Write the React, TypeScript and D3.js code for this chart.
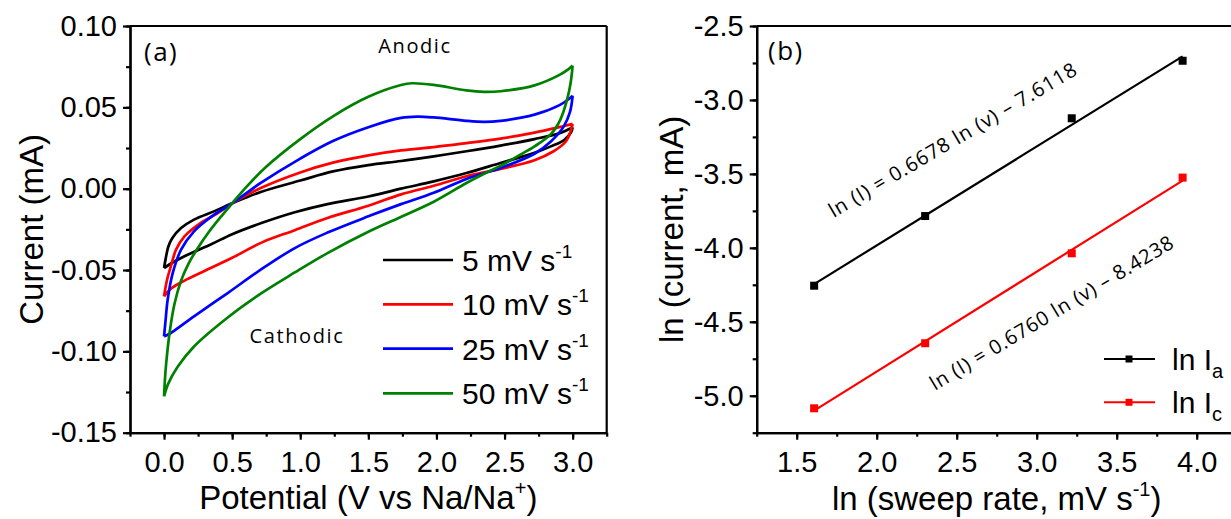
import React, { useRef, useEffect } from "react";
import * as d3 from "d3";

const W = 1231, H = 519;

// (a) cyclic voltammograms: [potential (V), current (mA)]
// anodic = forward sweep 0 -> 3 V, cathodic = reverse sweep 3 -> 0 V
const cv5Anodic = [[0,-0.0488],[0.012,-0.043],[0.03,-0.036],[0.06,-0.0305],[0.125,-0.0242],[0.22,-0.019],[0.37,-0.0138],[0.5,-0.009],[0.71,-0.002],[1.0,0.005],[1.24,0.0106],[1.5,0.0145],[1.74,0.017],[1.98,0.0199],[2.22,0.023],[2.47,0.0265],[2.72,0.0305],[2.9,0.034],[2.97,0.0365],[3.0,0.0378]];
const cv5Cathodic = [[3.0,0.0378],[2.99,0.035],[2.94,0.030],[2.84,0.026],[2.72,0.022],[2.47,0.0158],[2.22,0.0096],[1.98,0.0045],[1.74,0.0],[1.5,-0.0048],[1.2,-0.0095],[0.96,-0.0145],[0.72,-0.021],[0.5,-0.028],[0.35,-0.034],[0.15,-0.0415],[0.05,-0.046],[0,-0.0488]];

const cv10Anodic = [[0,-0.0662],[0.01,-0.061],[0.025,-0.055],[0.05,-0.0478],[0.088,-0.0375],[0.15,-0.0293],[0.27,-0.021],[0.395,-0.015],[0.5,-0.009],[0.71,0.0004],[1.0,0.010],[1.24,0.016],[1.5,0.0205],[1.74,0.0235],[1.98,0.0255],[2.22,0.028],[2.47,0.0308],[2.72,0.0345],[2.9,0.0378],[2.97,0.0392],[3.0,0.0398]];
const cv10Cathodic = [[3.0,0.0398],[2.98,0.034],[2.95,0.029],[2.86,0.023],[2.72,0.0175],[2.47,0.0122],[2.22,0.0076],[1.98,0.0018],[1.74,-0.0035],[1.5,-0.0105],[1.2,-0.018],[0.96,-0.0255],[0.72,-0.033],[0.5,-0.0425],[0.3,-0.0505],[0.15,-0.0565],[0.05,-0.0615],[0,-0.0662]];

const cv25Anodic = [[0,-0.0908],[0.01,-0.082],[0.027,-0.068],[0.064,-0.0518],[0.125,-0.0375],[0.22,-0.0262],[0.35,-0.017],[0.5,-0.009],[0.71,0.0035],[1.0,0.0185],[1.24,0.0293],[1.5,0.0378],[1.74,0.0435],[1.86,0.0443],[1.98,0.0438],[2.22,0.0417],[2.35,0.0411],[2.47,0.0417],[2.72,0.0455],[2.9,0.0512],[2.97,0.055],[3.0,0.0572]];
const cv25Cathodic = [[3.0,0.0572],[2.98,0.047],[2.935,0.0383],[2.84,0.029],[2.72,0.0215],[2.47,0.0127],[2.22,0.006],[1.98,-0.0025],[1.74,-0.0095],[1.5,-0.017],[1.2,-0.027],[0.96,-0.0365],[0.71,-0.0498],[0.47,-0.064],[0.22,-0.0785],[0.05,-0.0887],[0,-0.0908]];

const cv50Anodic = [[0,-0.1277],[0.006,-0.118],[0.015,-0.108],[0.04,-0.089],[0.076,-0.071],[0.125,-0.0565],[0.18,-0.046],[0.24,-0.0375],[0.33,-0.0265],[0.42,-0.017],[0.505,-0.0085],[0.62,0.0025],[0.75,0.0135],[1.0,0.0305],[1.24,0.0445],[1.5,0.0565],[1.74,0.0637],[1.82,0.0648],[1.98,0.0638],[2.22,0.0604],[2.35,0.0595],[2.47,0.0599],[2.72,0.0635],[2.9,0.0698],[2.97,0.0735],[3.0,0.0757]];
const cv50Cathodic = [[3.0,0.0757],[2.985,0.065],[2.96,0.055],[2.91,0.0425],[2.84,0.0335],[2.72,0.026],[2.59,0.0197],[2.47,0.014],[2.35,0.0092],[2.22,0.0035],[1.98,-0.008],[1.735,-0.0175],[1.5,-0.0265],[1.2,-0.0396],[0.96,-0.0515],[0.71,-0.0645],[0.47,-0.079],[0.22,-0.097],[0.1,-0.1095],[0.03,-0.12],[0,-0.1277]];

const scanRates = ["5", "10", "25", "50"];
const cvColors = ["#000000", "#ff0000", "#0000ff", "#008000"];

// (b) ln(peak current) vs ln(sweep rate)
const lnRate = [1.609, 2.303, 3.219, 3.912];
const lnIa = [-4.256, -3.785, -3.124, -2.735];
const lnIc = [-5.085, -4.645, -4.037, -3.525];
const eqAnodic = "ln (I) = 0.6678 ln (v) \u2013 7.6118";
const eqCathodic = "ln (I) = 0.6760 ln (v) \u2013 8.4238";

const xTicksA = [0, 0.5, 1, 1.5, 2, 2.5, 3];
const yTicksA = [-0.15, -0.1, -0.05, 0, 0.05, 0.1];
const xTicksB = [1.5, 2, 2.5, 3, 3.5, 4];
const yTicksB = [-5, -4.5, -4, -3.5, -3, -2.5];

const AXIS_FONT = "'Liberation Sans', Arial, sans-serif";
const NOTE_FONT = "'Open Sans', 'Noto Sans', sans-serif";

function drawFrame(g, x, y, xTicks, yTicks, xFmt, yFmt) {
  const [x0, x1] = x.range();
  const [y0, y1] = y.range();
  const minor = (ticks, dom) => {
    const s = (ticks[1] - ticks[0]) / 2, out = [];
    for (let v = dom[0]; v <= dom[1] + 1e-9; v += s) out.push(+v.toFixed(4));
    return out;
  };

  const xa = g.append("g").attr("transform", `translate(0,${y0})`)
    .call(d3.axisBottom(x).tickValues(minor(xTicks, x.domain())).tickSize(4).tickSizeOuter(0).tickFormat(() => ""));
  const xb = g.append("g").attr("transform", `translate(0,${y0})`)
    .call(d3.axisBottom(x).tickValues(xTicks).tickSize(7).tickSizeOuter(0).tickPadding(12).tickFormat(xFmt));
  const ya = g.append("g").attr("transform", `translate(${x0},0)`)
    .call(d3.axisLeft(y).tickValues(minor(yTicks, y.domain())).tickSize(4).tickSizeOuter(0).tickFormat(() => ""));
  const yb = g.append("g").attr("transform", `translate(${x0},0)`)
    .call(d3.axisLeft(y).tickValues(yTicks).tickSize(7).tickSizeOuter(0).tickPadding(6).tickFormat(yFmt));

  [xa, xb, ya, yb].forEach(a => {
    a.selectAll("path, line").attr("stroke", "#000").attr("stroke-width", 2.2);
    a.selectAll("text").attr("font-family", AXIS_FONT).attr("font-size", 29).attr("fill", "#000");
  });

  // box
  g.append("line").attr("x1", x0).attr("x2", x1).attr("y1", y1).attr("y2", y1).attr("stroke", "#000").attr("stroke-width", 2.2);
  g.append("line").attr("x1", x1).attr("x2", x1).attr("y1", y0).attr("y2", y1).attr("stroke", "#000").attr("stroke-width", 2.2);
}

const fmt = (d) => d3.format(".2f")(d).replace("\u2212", "-");
const fmt1 = (d) => d3.format(".1f")(d).replace("\u2212", "-");

const App = () => {
  const svgRef = useRef();
  useEffect(() => {
    const svg = d3.select(svgRef.current)
      .attr("width", W)
      .attr("height", H)
      .style("background", "#fff");
    svg.selectAll("*").remove();

    // ---------- panel (a) ----------
    const xA = d3.scaleLinear().domain([-0.25, 3.25]).range([130, 606.7]);
    const yA = d3.scaleLinear().domain([-0.15, 0.10]).range([432.7, 26]);
    const ga = svg.append("g");

    const cvLine = d3.line().x(d => xA(d[0])).y(d => yA(d[1])).curve(d3.curveCatmullRom.alpha(0.5));
    const loops = [
      [cv5Anodic, cv5Cathodic],
      [cv10Anodic, cv10Cathodic],
      [cv25Anodic, cv25Cathodic],
      [cv50Anodic, cv50Cathodic],
    ];
    loops.forEach(([up, down], i) => {
      ga.append("path")
        .attr("d", cvLine(up) + cvLine(down))
        .attr("fill", "none")
        .attr("stroke", cvColors[i])
        .attr("stroke-width", 2.7)
        .attr("stroke-linejoin", "round");
    });

    drawFrame(ga, xA, yA, xTicksA, yTicksA, fmt1, fmt);

    ga.append("text").attr("x", 144).attr("y", 61)
      .attr("font-family", NOTE_FONT).attr("font-size", 26).attr("letter-spacing", 1.5).text("(a)");
    ga.append("text").attr("x", 415).attr("y", 53).attr("text-anchor", "middle")
      .attr("font-family", NOTE_FONT).attr("font-size", 20).attr("letter-spacing", 1.6).text("Anodic");
    ga.append("text").attr("x", 297).attr("y", 343).attr("text-anchor", "middle")
      .attr("font-family", NOTE_FONT).attr("font-size", 20).attr("letter-spacing", 1.6).text("Cathodic");

    // legend
    const legRows = [260, 304.3, 348.7, 393.3];
    scanRates.forEach((r, i) => {
      ga.append("line").attr("x1", 383).attr("x2", 453).attr("y1", legRows[i]).attr("y2", legRows[i])
        .attr("stroke", cvColors[i]).attr("stroke-width", 2.7);
      const t = ga.append("text").attr("x", 462).attr("y", legRows[i] + 11)
        .attr("font-family", AXIS_FONT).attr("font-size", 30);
      t.append("tspan").text(`${r} mV s`);
      t.append("tspan").attr("dy", -13).attr("font-size", 19).text("-1");
    });

    // axis titles
    const xt = ga.append("text").attr("x", 368.3).attr("y", 509).attr("text-anchor", "middle")
      .attr("font-family", AXIS_FONT).attr("font-size", 33);
    xt.append("tspan").text("Potential (V vs Na/Na");
    xt.append("tspan").attr("dy", -14).attr("font-size", 20).text("+");
    xt.append("tspan").attr("dy", 14).text(")");
    ga.append("text").attr("transform", "translate(43,229.4) rotate(-90)").attr("text-anchor", "middle")
      .attr("font-family", AXIS_FONT).attr("font-size", 33).text("Current (mA)");

    // ---------- panel (b) ----------
    const xB = d3.scaleLinear().domain([1.25, 4.25]).range([756.7, 1236.7]);
    const yB = d3.scaleLinear().domain([-5.25, -2.5]).range([432.7, 26]);
    const gb = svg.append("g");

    const fit = (xs, ys) => {
      const mx = d3.mean(xs), my = d3.mean(ys);
      const b = d3.sum(xs, (v, i) => (v - mx) * (ys[i] - my)) / d3.sum(xs, v => (v - mx) ** 2);
      return (v) => my + b * (v - mx);
    };
    const series = [
      { ys: lnIa, color: "#000000" },
      { ys: lnIc, color: "#ff0000" },
    ];
    series.forEach(s => {
      const f = fit(lnRate, s.ys);
      const ends = [lnRate[0], lnRate[lnRate.length - 1]];
      gb.append("line")
        .attr("x1", xB(ends[0])).attr("y1", yB(f(ends[0])))
        .attr("x2", xB(ends[1])).attr("y2", yB(f(ends[1])))
        .attr("stroke", s.color).attr("stroke-width", 2.2);
      gb.selectAll(null).data(lnRate).enter().append("rect")
        .attr("x", (d) => xB(d) - 4).attr("y", (d, i) => yB(s.ys[i]) - 4)
        .attr("width", 8).attr("height", 8).attr("fill", s.color);
    });

    drawFrame(gb, xB, yB, xTicksB, yTicksB, fmt1, fmt1);

    gb.append("text").attr("x", 768).attr("y", 60)
      .attr("font-family", NOTE_FONT).attr("font-size", 26).attr("letter-spacing", 1.5).text("(b)");

    gb.append("text").attr("transform", "translate(956,146) rotate(-30.5)").attr("text-anchor", "middle")
      .attr("font-family", NOTE_FONT).attr("font-size", 20)
      .attr("textLength", 284).attr("lengthAdjust", "spacing").text(eqAnodic);
    gb.append("text").attr("transform", "translate(1055,319) rotate(-31)").attr("text-anchor", "middle")
      .attr("font-family", NOTE_FONT).attr("font-size", 20)
      .attr("textLength", 280).attr("lengthAdjust", "spacing").text(eqCathodic);

    // legend (b)
    const legB = [
      { y: 359, color: "#000000", sub: "a" },
      { y: 402.3, color: "#ff0000", sub: "c" },
    ];
    legB.forEach(l => {
      gb.append("line").attr("x1", 1104).attr("x2", 1155).attr("y1", l.y).attr("y2", l.y)
        .attr("stroke", l.color).attr("stroke-width", 2);
      gb.append("rect").attr("x", 1125.5).attr("y", l.y - 3.5).attr("width", 7).attr("height", 7).attr("fill", l.color);
      const t = gb.append("text").attr("x", 1172).attr("y", l.y + 11)
        .attr("font-family", AXIS_FONT).attr("font-size", 30);
      t.append("tspan").text("ln I");
      t.append("tspan").attr("dy", 8).attr("font-size", 20).text(l.sub);
    });

    const xtb = gb.append("text").attr("x", 996.7).attr("y", 510).attr("text-anchor", "middle")
      .attr("font-family", AXIS_FONT).attr("font-size", 33);
    xtb.append("tspan").text("ln (sweep rate, mV s");
    xtb.append("tspan").attr("dy", -14).attr("font-size", 20).text("-1");
    xtb.append("tspan").attr("dy", 14).text(")");
    gb.append("text").attr("transform", "translate(683,229.4) rotate(-90)").attr("text-anchor", "middle")
      .attr("font-family", AXIS_FONT).attr("font-size", 33).text("ln (current, mA)");
  }, []);

  return (
    <div style={{ position: "absolute", left: 0, top: 0 }}>
      <svg ref={svgRef} style={{ display: "block" }}></svg>
    </div>
  );
};

export default App;
